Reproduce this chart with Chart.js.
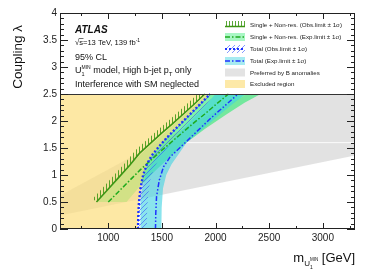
<!DOCTYPE html>
<html>
<head>
<meta charset="utf-8">
<script src="https://cdn.jsdelivr.net/npm/chart.js@4.4.1/dist/chart.umd.min.js"></script>
<style>
  html, body { margin: 0; padding: 0; background: #fff; }
  #limitChart { display: block; }
</style>
</head>
<body>
<canvas id="limitChart" width="374" height="274"></canvas>
<script>
// axis ticks
const xMajorTicks = [1000, 1500, 2000, 2500, 3000];
const xMinorTicks = [750, 1250, 1750, 2250, 2750, 3250];
const yMajorTicks = [0, 0.5, 1, 1.5, 2, 2.5, 3, 3.5, 4];
const yMinorStep = 0.1;
const boxEdge = 2.5;

// Preferred by B anomalies (closed polygon)
const greyMass = [550, 3300, 3300, 2300, 550];
const greyLambda = [0.25, 1.36, 2.5, 2.5, 0.62];
const seamMass = [1700, 3300];
const seamLambda = [1.6, 1.6];

// Single + Non-res.
const greenObsMass = [890, 1000, 1100, 1200, 1290, 1400, 1500, 1600, 1700, 1800, 1900];
const greenObsLambda = [0.5, 0.74, 0.96, 1.18, 1.4, 1.6, 1.78, 1.95, 2.13, 2.31, 2.5];
const greenExpMass = [1000, 1100, 1200, 1300, 1400, 1500, 1600, 1700, 1800, 1900, 2000, 2120];
const greenExpLambda = [0.5, 0.7, 0.9, 1.1, 1.28, 1.46, 1.63, 1.8, 1.97, 2.13, 2.3, 2.5];
const greenLoMass = [900, 1000, 1100, 1200, 1300, 1400, 1500, 1600, 1700, 1800, 1920];
const greenLoLambda = [0.5, 0.73, 0.95, 1.17, 1.38, 1.57, 1.74, 1.92, 2.1, 2.28, 2.5];
const greenHiMass = [1170, 1300, 1450, 1600, 1731, 1900, 2100, 2270, 2420];
const greenHiLambda = [0.5, 0.8, 1.1, 1.38, 1.6, 1.85, 2.12, 2.34, 2.5];

// Total
const blueObsMass = [1277, 1280, 1286, 1300, 1325, 1360, 1405, 1470, 1550, 1650, 1750, 1850, 1950];
const blueObsLambda = [0, 0.25, 0.5, 0.75, 1.0, 1.2, 1.36, 1.52, 1.7, 1.9, 2.1, 2.3, 2.5];
const blueObsHiMass = [1360, 1362, 1370, 1390, 1430, 1490, 1570, 1670, 1770, 1870, 1990];
const blueObsHiLambda = [0, 0.3, 0.6, 0.9, 1.15, 1.35, 1.55, 1.77, 1.98, 2.2, 2.5];
const blueExpMass = [1440, 1443, 1450, 1475, 1515, 1575, 1665, 1760, 1860, 1960, 2080, 2210];
const blueExpLambda = [0, 0.3, 0.6, 0.9, 1.15, 1.33, 1.5, 1.68, 1.87, 2.06, 2.27, 2.5];
const cyanLoMass = [1296, 1300, 1320, 1360, 1420, 1500, 1600, 1700, 1800, 1900, 2000];
const cyanLoLambda = [0, 0.5, 0.8, 1.05, 1.25, 1.45, 1.65, 1.86, 2.07, 2.28, 2.5];
const cyanHiMass = [1495, 1498, 1510, 1540, 1590, 1660, 1731, 1850, 2000, 2150, 2280];
const cyanHiLambda = [0, 0.4, 0.75, 1.0, 1.2, 1.4, 1.6, 1.8, 2.05, 2.3, 2.5];

const fontFamily = '"Liberation Sans", Arial, Helvetica, sans-serif';

function pts(xs, ys) {
  return xs.map((x, i) => ({ x: x, y: ys[i] }));
}
// closed band: low edge forwards, high edge backwards
function band(loX, loY, hiX, hiY) {
  return pts(loX, loY).concat(pts(hiX, hiY).reverse());
}

function makePattern(size, draw) {
  const c = document.createElement('canvas');
  c.width = size; c.height = size;
  draw(c.getContext('2d'), size);
  return c.getContext('2d').createPattern(c, 'repeat');
}
const ctx = document.getElementById('limitChart').getContext('2d');
const greenHatch = makePattern(3, (g, s) => {
  g.fillStyle = 'rgba(60,150,20,0.85)';
  g.fillRect(1, 0, 1, s);
});
const blueHatch = makePattern(5, (g, s) => {
  g.strokeStyle = 'rgba(50,80,255,0.75)';
  g.lineWidth = 0.8;
  g.beginPath();
  g.moveTo(-1, s + 1); g.lineTo(s + 1, -1);
  g.moveTo(-1, 1); g.lineTo(1, -1);
  g.moveTo(s - 1, s + 1); g.lineTo(s + 1, s - 1);
  g.stroke();
});

const colors = {
  grey: 'rgba(160,160,160,0.3)',
  greenBand: 'rgba(40,235,110,0.6)',
  cyanBand: 'rgba(60,210,225,0.6)',
  excluded: 'rgba(252,222,126,0.7)',
  greenObs: 'rgb(60,150,20)',
  greenExp: 'rgb(30,170,30)',
  blue: 'rgb(30,50,255)'
};

function area(data, color) {
  return { data: data, fill: 'shape', backgroundColor: color, borderColor: 'transparent', borderWidth: 0 };
}
function curve(data, color, width, dash) {
  return { data: data, fill: false, borderColor: color, borderWidth: width, borderDash: dash };
}

// listed in drawing order, first = bottom
const datasets = [
  area(pts(greyMass, greyLambda), colors.grey),
  curve(pts(seamMass, seamLambda), 'rgba(255,255,255,0.85)', 1, []),
  area(band(greenLoMass, greenLoLambda, greenHiMass, greenHiLambda), colors.greenBand),
  area(band(cyanLoMass, cyanLoLambda, cyanHiMass, cyanHiLambda), colors.cyanBand),
  area([{ x: 550, y: 0 }].concat(pts(blueObsMass, blueObsLambda), [{ x: 550, y: boxEdge }]), colors.excluded),
  area(band(blueObsMass, blueObsLambda, blueObsHiMass, blueObsHiLambda), blueHatch),
  curve(pts(greenExpMass, greenExpLambda), colors.greenExp, 1.5, [5, 2, 1.5, 2]),
  curve(pts(blueExpMass, blueExpLambda), colors.blue, 1.5, [5, 2, 1.5, 2, 1.5, 2]),
  Object.assign(curve(pts(greenObsMass, greenObsLambda), colors.greenObs, 1.6, []), { hatchWidth: 5 }),
  curve(pts(blueObsMass, blueObsLambda), colors.blue, 2.4, [2, 2])
];
datasets.forEach((d, i) => { d.order = -i; d.pointRadius = 0; d.tension = 0; });

// ROOT style exclusion hatch on the left side of a line
const exclusionHatch = {
  id: 'exclusionHatch',
  beforeDatasetDraw(chart, args) {
    const ds = chart.data.datasets[args.index];
    if (!ds.hatchWidth) return;
    const p = args.meta.data.map(e => ({ x: e.x, y: e.y }));
    const w = ds.hatchWidth;
    const off = p.map((q, i) => {
      const a = p[Math.max(i - 1, 0)], b = p[Math.min(i + 1, p.length - 1)];
      const dx = b.x - a.x, dy = b.y - a.y, len = Math.hypot(dx, dy) || 1;
      return { x: q.x + dy / len * w, y: q.y - dx / len * w };
    });
    const c = chart.ctx, ca = chart.chartArea;
    const top = chart.scales.y.getPixelForValue(boxEdge);
    c.save();
    c.beginPath();
    c.rect(ca.left, top, ca.width, ca.bottom - top);
    c.clip();
    c.beginPath();
    p.forEach((q, i) => i ? c.lineTo(q.x, q.y) : c.moveTo(q.x, q.y));
    off.slice().reverse().forEach(q => c.lineTo(q.x, q.y));
    c.closePath();
    c.fillStyle = greenHatch;
    c.fill();
    c.restore();
  }
};

// frame, inward ticks and the 2.5 box line
const rootFrame = {
  id: 'rootFrame',
  afterDatasetsDraw(chart) {
    const c = chart.ctx, a = chart.chartArea, x = chart.scales.x, y = chart.scales.y;
    c.save();
    c.strokeStyle = '#333';
    c.lineWidth = 1;
    const yb = Math.round(y.getPixelForValue(boxEdge)) + 0.5;
    c.beginPath();
    c.moveTo(a.left, yb); c.lineTo(a.right, yb);
    c.stroke();
    c.strokeStyle = '#222';
    c.strokeRect(a.left + 0.5, a.top + 0.5, a.width - 1, a.height - 1);
    c.beginPath();
    const xt = (v, len) => {
      const px = Math.round(x.getPixelForValue(v)) + 0.5;
      c.moveTo(px, a.bottom); c.lineTo(px, a.bottom - len);
      c.moveTo(px, a.top); c.lineTo(px, a.top + len);
    };
    xMajorTicks.forEach(v => xt(v, 6));
    xMinorTicks.forEach(v => xt(v, 3));
    const yt = (v, len) => {
      const py = Math.round(y.getPixelForValue(v)) + 0.5;
      c.moveTo(a.left, py); c.lineTo(a.left + len, py);
      c.moveTo(a.right, py); c.lineTo(a.right - len, py);
    };
    for (let v = 0; v <= 4.0001; v += yMinorStep) {
      const major = Math.abs(v * 2 - Math.round(v * 2)) < 1e-6;
      yt(v, major ? 8 : 4);
    }
    c.stroke();
    c.restore();
  }
};

function richText(c, x, y, parts, draw) {
  let cx = x;
  for (const p of parts) {
    c.font = (p.style || '') + ' ' + p.size + 'px ' + fontFamily;
    if (draw) c.fillText(p.t, cx, y + (p.dy || 0));
    if (!p.stay) cx += c.measureText(p.t).width;
  }
  return cx - x;
}

const legendRows = [
  'Single + Non-res. (Obs.limit \u00b1 1\u03c3)',
  'Single + Non-res. (Exp.limit \u00b1 1\u03c3)',
  'Total (Obs.limit \u00b1 1\u03c3)',
  'Total (Exp.limit \u00b1 1\u03c3)',
  'Preferred by B anomalies',
  'Excluded region'
];

const labels = {
  id: 'labels',
  afterDraw(chart) {
    const c = chart.ctx;
    c.save();
    c.fillStyle = '#111';
    c.textAlign = 'left';
    c.textBaseline = 'alphabetic';
    // ATLAS block
    c.font = 'italic bold 10px ' + fontFamily;
    c.fillText('ATLAS', 75, 33);
    richText(c, 75, 45, [
      { t: '\u221as=13 TeV, 139 fb', size: 7.6 },
      { t: '-1', size: 5, dy: -3.5 }
    ], true);
    c.font = '7.6px ' + fontFamily;
    const sqw = c.measureText('\u221a').width;
    c.fillRect(75 + sqw - 0.5, 38.2, c.measureText('s').width + 1, 0.6);
    richText(c, 75, 59.5, [{ t: '95% CL', size: 9 }], true);
    richText(c, 75, 73, [
      { t: 'U', size: 9 },
      { t: '1', size: 5.5, dy: 2.5, stay: true },
      { t: 'MIN', size: 5, dy: -4 },
      { t: ' model, High b-jet p', size: 9 },
      { t: 'T', size: 6, dy: 2.5 },
      { t: ' only', size: 9 }
    ], true);
    richText(c, 75, 87, [{ t: 'Interference with SM neglected', size: 9 }], true);

    // legend
    const lx = 225, lw = 20, rows = [25, 37, 49, 61, 72.5, 84];
    rows.forEach((cy, i) => {
      c.save();
      if (i === 0) {
        c.fillStyle = greenHatch;
        c.fillRect(lx, cy - 4, lw, 5);
        c.strokeStyle = colors.greenObs; c.lineWidth = 1.5;
        c.beginPath(); c.moveTo(lx, cy + 1.5); c.lineTo(lx + lw, cy + 1.5); c.stroke();
      } else if (i === 1) {
        c.fillStyle = 'rgba(40,235,110,0.4)';
        c.fillRect(lx, cy - 4, lw, 8);
        c.strokeStyle = colors.greenExp; c.lineWidth = 1.5; c.setLineDash([5, 2, 1.5, 2]);
        c.beginPath(); c.moveTo(lx, cy); c.lineTo(lx + lw, cy); c.stroke();
      } else if (i === 2) {
        c.fillStyle = blueHatch;
        c.fillRect(lx, cy - 4, lw, 8);
        c.strokeStyle = colors.blue; c.lineWidth = 2; c.setLineDash([2, 2]);
        c.beginPath(); c.moveTo(lx, cy); c.lineTo(lx + lw, cy); c.stroke();
      } else if (i === 3) {
        c.fillStyle = 'rgba(60,210,225,0.45)';
        c.fillRect(lx, cy - 4, lw, 8);
        c.strokeStyle = colors.blue; c.lineWidth = 1.5; c.setLineDash([5, 2, 1.5, 2]);
        c.beginPath(); c.moveTo(lx, cy); c.lineTo(lx + lw, cy); c.stroke();
      } else if (i === 4) {
        c.fillStyle = '#e3e3e3';
        c.fillRect(lx, cy - 4, lw, 8);
      } else {
        c.fillStyle = '#fde9a8';
        c.fillRect(lx, cy - 4, lw, 8);
      }
      c.restore();
      c.font = '6.2px ' + fontFamily;
      c.fillStyle = '#222';
      c.fillText(legendRows[i], 250, cy + 2.2);
    });

    // axis titles
    c.save();
    c.translate(22, 25);
    c.rotate(-Math.PI / 2);
    c.textAlign = 'right';
    c.font = '13.5px ' + fontFamily;
    c.fillStyle = '#111';
    c.fillText('Coupling \u03bb', 0, 0);
    c.restore();

    const xParts = [
      { t: 'm', size: 13 },
      { t: 'U', size: 8, dy: 3.5 },
      { t: '1', size: 5, dy: 7, stay: true },
      { t: 'MIN', size: 4.5, dy: -1 },
      { t: ' [GeV]', size: 13 }
    ];
    const tw = richText(c, 0, 0, xParts, false);
    c.fillStyle = '#111';
    richText(c, 355 - tw, 262, xParts, true);
    c.restore();
  }
};

new Chart(ctx, {
  type: 'line',
  data: { datasets: datasets },
  options: {
    responsive: false,
    animation: false,
    devicePixelRatio: 1,
    layout: { padding: { top: 13, right: 19, left: 0, bottom: 0 } },
    plugins: { legend: { display: false }, tooltip: { enabled: false } },
    elements: { point: { radius: 0 }, line: { tension: 0 } },
    scales: {
      x: {
        type: 'linear', min: 550, max: 3300,
        grid: { display: false, drawTicks: false },
        border: { display: false },
        ticks: { font: { family: fontFamily, size: 10 }, color: '#222', padding: 3, autoSkip: false, maxRotation: 0,
          callback: v => String(v) },
        afterBuildTicks: s => { s.ticks = xMajorTicks.map(v => ({ value: v })); },
        afterFit: s => { s.height = 45; }
      },
      y: {
        type: 'linear', min: 0, max: 4,
        grid: { display: false, drawTicks: false },
        border: { display: false },
        ticks: { font: { family: fontFamily, size: 10 }, color: '#222', padding: 3, autoSkip: false,
          callback: v => String(v) },
        afterBuildTicks: s => { s.ticks = yMajorTicks.map(v => ({ value: v })); },
        afterFit: s => { s.width = 60; }
      }
    }
  },
  plugins: [exclusionHatch, rootFrame, labels]
});
</script>
</body>
</html>
